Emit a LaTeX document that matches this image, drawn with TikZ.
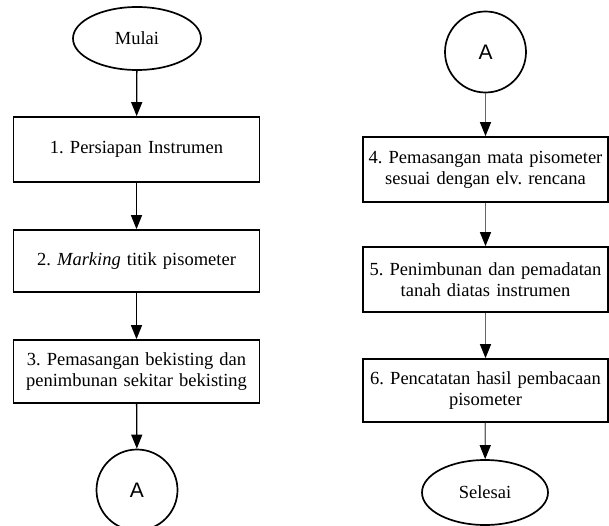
\documentclass[tikz,border=0pt]{standalone}
\usepackage{fontspec}
\setmainfont{Liberation Serif}
\newfontfamily\sanslabel{Liberation Sans}
\usetikzlibrary{shapes,arrows.meta,positioning}

\tikzset{
  stepbox/.style = {draw, line width=1.7pt, minimum width=246pt, minimum height=64pt,
                    text width=244pt, align=center, inner sep=0pt,
                    font=\frenchspacing\fontsize{18.5}{21}\selectfont},
  terminal/.style = {draw, ellipse, line width=1.7pt, inner sep=0pt,
                     font=\fontsize{18.5}{21}\selectfont},
  connector/.style = {draw, circle, line width=1.7pt, minimum size=81pt, inner sep=0pt,
                      font=\sanslabel\fontsize{21}{24}\selectfont},
  flow/.style = {line width=1.3pt, -{Triangle[width=11pt,length=14pt,color=black,fill=black]}}
}

\begin{document}
\begin{tikzpicture}[x=1pt, y=-1pt]
\useasboundingbox (0,0) rectangle (609,526);

% kolom kiri
\node [terminal, minimum width=128pt, minimum height=63pt] (mulai) at (137,38.5) {Mulai};
\node [stepbox, minimum height=65pt] (langkah1) at (136.5,149.5) {1. Persiapan Instrumen};
\node [stepbox, minimum height=62pt] (langkah2) at (136.5,261) {2. \textit{Marking} titik pisometer};
\node [stepbox, minimum height=63pt] (langkah3) at (136.5,371.5) {3. Pemasangan bekisting dan\\penimbunan sekitar bekisting};
\node [connector] (konA) at (137,490) {A};

\draw [flow] (mulai) -- (langkah1);
\draw [flow] (langkah1) -- (langkah2);
\draw [flow] (langkah2) -- (langkah3);
\draw [flow] (langkah3) -- (konA);

% kolom kanan
\node [connector] (konB) at (485.5,52) {A};
\node [stepbox, minimum width=245pt, minimum height=65pt] (langkah4) at (485.5,169.5) {4. Pemasangan mata pisometer\\sesuai dengan elv. rencana};
\node [stepbox, minimum width=245pt, minimum height=65pt] (langkah5) at (485.5,279.5) {5. Penimbunan dan pemadatan\\tanah diatas instrumen};
\node [stepbox, minimum width=245pt, minimum height=63pt] (langkah6) at (485.5,390.5) {6. Pencatatan hasil pembacaan\\pisometer};
\node [terminal, minimum width=126pt, minimum height=65pt] (selesai) at (485,492.5) {Selesai};

\draw [flow, draw=black!60] (konB) -- (langkah4);
\draw [flow, draw=black!60] (langkah4) -- (langkah5);
\draw [flow, draw=black!60] (langkah5) -- (langkah6);
\draw [flow, draw=black!60] (langkah6) -- (selesai);
\end{tikzpicture}
\end{document}
